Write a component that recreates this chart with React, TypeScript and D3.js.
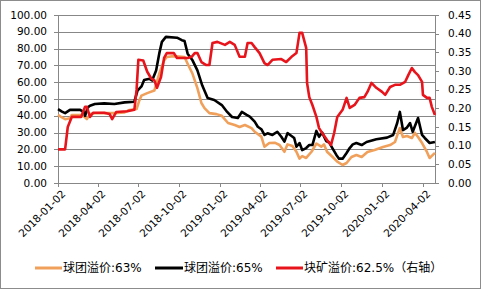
import React from "react";
import * as d3 from "d3";

// ---- data ----
const xTickLabels = [
  "2018-01-02", "2018-04-02", "2018-07-02", "2018-10-02", "2019-01-02",
  "2019-04-02", "2019-07-02", "2019-10-02", "2020-01-02", "2020-04-02",
];
const leftTicks = [0, 10, 20, 30, 40, 50, 60, 70, 80, 90, 100];
const rightTicks = [0, 0.05, 0.1, 0.15, 0.2, 0.25, 0.3, 0.35, 0.4, 0.45];

const pellet63Dates = ["2018-01-02","2018-01-11","2018-01-18","2018-01-29","2018-02-02","2018-02-21","2018-03-02","2018-03-08","2018-03-15","2018-03-26","2018-04-16","2018-05-09","2018-06-01","2018-06-12","2018-06-28","2018-07-04","2018-07-09","2018-07-22","2018-08-07","2018-08-18","2018-08-29","2018-09-04","2018-09-20","2018-10-14","2018-10-21","2018-11-01","2018-11-12","2018-11-21","2018-11-28","2018-12-09","2018-12-25","2019-01-06","2019-01-20","2019-02-04","2019-02-15","2019-02-27","2019-03-14","2019-03-21","2019-04-05","2019-04-12","2019-04-23","2019-05-05","2019-05-16","2019-05-27","2019-06-03","2019-06-14","2019-06-23","2019-06-30","2019-07-06","2019-07-15","2019-07-27","2019-08-07","2019-08-18","2019-08-24","2019-08-31","2019-09-12","2019-09-23","2019-10-05","2019-10-14","2019-10-25","2019-11-05","2019-11-17","2019-11-30","2019-12-16","2020-01-04","2020-01-20","2020-01-31","2020-02-07","2020-02-11","2020-02-18","2020-02-27","2020-03-09","2020-03-16","2020-03-23","2020-04-01","2020-04-12","2020-04-18","2020-04-30"];
const pellet63Values = [40.5,39,38,38.5,40.5,40.5,39.5,38,41,41.5,41.6,41.6,42,43.5,44,49,52,53.5,55,65,73,75,75.5,75,71,65,56.5,47.6,44.6,41.6,41,40,35.7,34.5,33.3,34.5,32.7,30.5,27.6,21.6,23.8,24,22.6,18.6,23,22,18.6,14.5,16,14.9,18.6,23.5,21.6,23,18.6,15.6,12.7,10.7,11.9,15.5,16.7,15.5,18.5,19.6,21.4,22.6,24.4,29.8,32.7,27.4,28,26.8,29.8,27.4,23.8,18.5,14.9,17.9];

const pellet65Dates = ["2018-01-02","2018-01-11","2018-01-18","2018-01-29","2018-02-21","2018-03-02","2018-03-04","2018-03-10","2018-03-15","2018-03-26","2018-04-16","2018-05-09","2018-06-01","2018-06-23","2018-06-30","2018-07-09","2018-07-15","2018-07-27","2018-08-02","2018-08-11","2018-08-18","2018-08-24","2018-09-02","2018-09-27","2018-10-08","2018-10-14","2018-10-21","2018-11-01","2018-11-12","2018-11-23","2018-12-05","2018-12-20","2019-01-06","2019-01-18","2019-01-29","2019-02-11","2019-02-20","2019-03-03","2019-03-10","2019-03-21","2019-03-28","2019-04-05","2019-04-12","2019-04-19","2019-04-30","2019-05-11","2019-05-20","2019-05-27","2019-06-03","2019-06-12","2019-06-18","2019-06-23","2019-06-30","2019-07-06","2019-07-15","2019-07-22","2019-07-29","2019-08-07","2019-08-13","2019-08-20","2019-08-29","2019-09-05","2019-09-12","2019-09-21","2019-09-27","2019-10-05","2019-10-14","2019-10-21","2019-10-28","2019-11-05","2019-11-17","2019-11-28","2019-12-20","2020-01-13","2020-01-27","2020-02-05","2020-02-11","2020-02-18","2020-02-27","2020-03-05","2020-03-11","2020-03-23","2020-04-01","2020-04-07","2020-04-18","2020-04-30"];
const pellet65Values = [44,42.5,41.6,43.5,43.5,42,40,45,46,47,47.4,47,48,48.4,55,57.5,61.3,62,61,67,77,84,87,86.5,85,84.5,77,73,67,58,50.6,49.4,46.4,42.3,39.3,38.7,42.3,40.5,39.5,36.5,33.5,32,28.6,29.6,28.6,30.5,27.5,24.6,29.7,28,26.8,21.6,23.8,19.6,20.8,22.6,22.6,31,27.5,30,25,24,20.8,16.7,14.5,14.5,17.9,20.8,23,23.8,22.6,24.4,26,27,28.6,35.7,42.3,31.5,33,35.7,30.5,38.7,28.6,26.8,23.8,24.4];

const lumpDates = ["2018-01-02","2018-01-18","2018-01-24","2018-02-02","2018-02-23","2018-03-04","2018-03-08","2018-03-15","2018-03-22","2018-04-16","2018-04-28","2018-05-04","2018-05-13","2018-06-07","2018-06-23","2018-06-28","2018-07-02","2018-07-13","2018-07-22","2018-07-31","2018-08-07","2018-08-13","2018-08-22","2018-08-29","2018-09-04","2018-09-20","2018-09-27","2018-10-21","2018-10-30","2018-11-06","2018-11-12","2018-11-21","2018-12-02","2018-12-09","2018-12-16","2018-12-27","2019-01-13","2019-01-24","2019-02-04","2019-02-15","2019-02-27","2019-03-05","2019-03-14","2019-03-21","2019-04-01","2019-04-12","2019-04-19","2019-04-30","2019-05-20","2019-05-31","2019-06-12","2019-06-23","2019-06-30","2019-07-06","2019-07-15","2019-07-17","2019-07-22","2019-07-29","2019-08-07","2019-08-13","2019-08-20","2019-08-31","2019-09-09","2019-09-16","2019-09-23","2019-10-05","2019-10-14","2019-10-21","2019-11-01","2019-11-12","2019-11-23","2019-11-30","2019-12-09","2019-12-20","2020-01-02","2020-01-09","2020-01-20","2020-01-31","2020-02-11","2020-02-23","2020-03-01","2020-03-09","2020-03-16","2020-03-23","2020-04-01","2020-04-03","2020-04-12","2020-04-18","2020-04-23","2020-04-30"];
const lumpValues = [0.09,0.09,0.15,0.177,0.177,0.204,0.204,0.177,0.188,0.188,0.185,0.171,0.19,0.192,0.196,0.25,0.33,0.328,0.298,0.28,0.275,0.255,0.284,0.335,0.348,0.348,0.335,0.335,0.338,0.348,0.348,0.324,0.316,0.316,0.375,0.378,0.37,0.378,0.37,0.338,0.338,0.375,0.375,0.364,0.348,0.321,0.316,0.33,0.332,0.324,0.338,0.348,0.402,0.402,0.362,0.268,0.23,0.209,0.177,0.147,0.134,0.115,0.102,0.134,0.177,0.196,0.228,0.201,0.209,0.228,0.23,0.244,0.268,0.255,0.244,0.236,0.257,0.263,0.263,0.271,0.289,0.308,0.297,0.289,0.271,0.236,0.228,0.228,0.204,0.182];

const legendLabels = ["球团溢价:63%", "球团溢价:65%", "块矿溢价:62.5%（右轴）"];
const seriesColors = ["#F0A05A", "#000000", "#E8141B"];

const W = 481, H = 289;
const PL = 58, PR = 435, PT = 15, PB = 183;
const FONT = "'DejaVu Sans', Verdana, sans-serif";
const CJK = "'DejaVu Sans', 'Noto Sans CJK SC', sans-serif";

export default function App() {
  const parse = d3.timeParse("%Y-%m-%d");
  const x = d3.scaleTime()
    .domain([parse("2018-01-02")!, parse("2020-04-02")!])
    .range([PL, 422.5]);
  const yL = d3.scaleLinear().domain([0, 100]).range([PB, PT]);
  const yR = d3.scaleLinear().domain([0, 0.45]).range([PB, PT]);

  const mk = (dates: string[], vals: number[]) =>
    dates.map((d, i) => ({ d: parse(d)!, v: vals[i] }));
  const lineL = d3.line<{ d: Date; v: number }>().x(p => x(p.d)).y(p => yL(p.v));
  const lineR = d3.line<{ d: Date; v: number }>().x(p => x(p.d)).y(p => yR(p.v));

  const s1 = lineL(mk(pellet63Dates, pellet63Values))!;
  const s2 = lineL(mk(pellet65Dates, pellet65Values))!;
  const s3 = lineR(mk(lumpDates, lumpValues))!;

  const grid = "#878787";
  const legendItems = [
    { x1: 35, x2: 62, tx: 63 },
    { x1: 155, x2: 183, tx: 184 },
    { x1: 276, x2: 303, tx: 304 },
  ];

  return (
    <div style={{ position: "absolute", left: 0, top: 0 }}>
      <svg width={W} height={H} style={{ display: "block", background: "#fff" }}>
        <rect x={0.5} y={0.5} width={W - 1} height={H - 1} fill="#fff" stroke="#8c8c8c" />
        {leftTicks.map(t => (
          <g key={"g" + t}>
            <line x1={PL - 4} x2={PR} y1={Math.round(yL(t)) + 0.5} y2={Math.round(yL(t)) + 0.5} stroke={grid} strokeWidth={1} />
            <text x={47} y={yL(t)} dy="0.35em" textAnchor="end" fontFamily={FONT} fontSize={10.5} fill="#000">{t.toFixed(2)}</text>
          </g>
        ))}
        {rightTicks.map(t => (
          <g key={"r" + t}>
            <line x1={PR} x2={PR + 4} y1={Math.round(yR(t)) + 0.5} y2={Math.round(yR(t)) + 0.5} stroke={grid} />
            <text x={448} y={yR(t)} dy="0.35em" textAnchor="start" fontFamily={FONT} fontSize={10.5} fill="#000">{t.toFixed(2)}</text>
          </g>
        ))}
        <line x1={PL + 0.5} x2={PL + 0.5} y1={PT} y2={PB} stroke={grid} />
        <line x1={PR + 0.5} x2={PR + 0.5} y1={PT} y2={PB + 0.5} stroke={grid} />
        {xTickLabels.map(l => {
          const xx = Math.round(x(parse(l)!)) + 0.5;
          return (
            <g key={l}>
              <line x1={xx} x2={xx} y1={PB} y2={PB + 4} stroke={grid} />
              <text transform={`translate(${xx + 5},${PB + 9}) rotate(-45)`} textAnchor="end" dy="0.35em" fontFamily={FONT} fontSize={10.5} fill="#000">{l}</text>
            </g>
          );
        })}
        <path d={s1} fill="none" stroke={seriesColors[0]} strokeWidth={2.6} strokeLinejoin="round" />
        <path d={s2} fill="none" stroke={seriesColors[1]} strokeWidth={2.6} strokeLinejoin="round" />
        <path d={s3} fill="none" stroke={seriesColors[2]} strokeWidth={2.6} strokeLinejoin="round" />
        {legendItems.map((it, i) => (
          <g key={"lg" + i}>
            <line x1={it.x1} x2={it.x2} y1={268} y2={268} stroke={seriesColors[i]} strokeWidth={3} />
            <text x={it.tx} y={268} dy="0.35em" fontFamily={CJK} fontSize={12} fill="#000">{legendLabels[i]}</text>
          </g>
        ))}
      </svg>
    </div>
  );
}
